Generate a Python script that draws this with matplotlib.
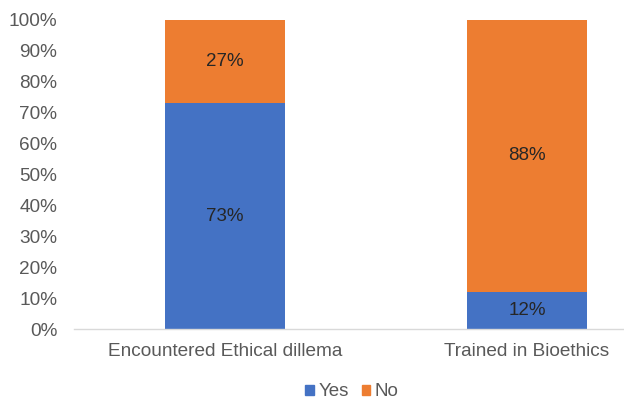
import matplotlib
matplotlib.use('Agg')
import matplotlib.pyplot as plt
from matplotlib.patches import Patch

plt.rcParams['font.family'] = ['Liberation Sans', 'DejaVu Sans']

categories = ['Encountered Ethical dillema', 'Trained in Bioethics']
yes_vals = [73, 12]
no_vals = [27, 88]
series_names = ['Yes', 'No']
colors = ['#4472C4', '#ED7D31']

fig = plt.figure(figsize=(6.24, 4.0), dpi=100)
# plot area runs past the right edge, as in the (cropped) reference
ax = fig.add_axes([74 / 624, 71 / 400, 604 / 624, 309 / 400])

x = list(range(len(categories)))
yes = [v / 100 for v in yes_vals]
no = [v / 100 for v in no_vals]
ax.bar(x, yes, width=0.4, color=colors[0])
ax.bar(x, no, width=0.4, bottom=yes, color=colors[1])

for i in x:
    ax.text(i, yes[i] / 2, f'{yes_vals[i]}%', ha='center', va='center',
            fontsize=13.5, color='#262626')
    ax.text(i, yes[i] + no[i] / 2, f'{no_vals[i]}%', ha='center', va='center',
            fontsize=13.5, color='#262626')

ax.set_xlim(-0.5, 1.5)
ax.set_ylim(0, 1)
ax.set_yticks([i / 10 for i in range(11)])
ax.set_yticklabels([f'{i * 10}%' for i in range(11)])
ax.set_xticks(x)
ax.set_xticklabels(categories)
ax.tick_params(axis='both', length=0, labelsize=13.7, colors='#595959')
ax.tick_params(axis='y', pad=12)
ax.tick_params(axis='x', pad=10)

for s in ['top', 'right', 'left']:
    ax.spines[s].set_visible(False)
ax.spines['bottom'].set_color('#D9D9D9')
ax.spines['bottom'].set_linewidth(1)

handles = [Patch(color=c, label=n) for c, n in zip(colors, series_names)]
fig.legend(handles=handles, loc='center', bbox_to_anchor=(352 / 624, 1 - 392 / 400),
           ncol=2, frameon=False, fontsize=13.5, handlelength=0.45, handleheight=0.45,
           handletextpad=0.25, columnspacing=0.7, labelcolor='#595959')

fig.savefig('out.png', dpi=100)
